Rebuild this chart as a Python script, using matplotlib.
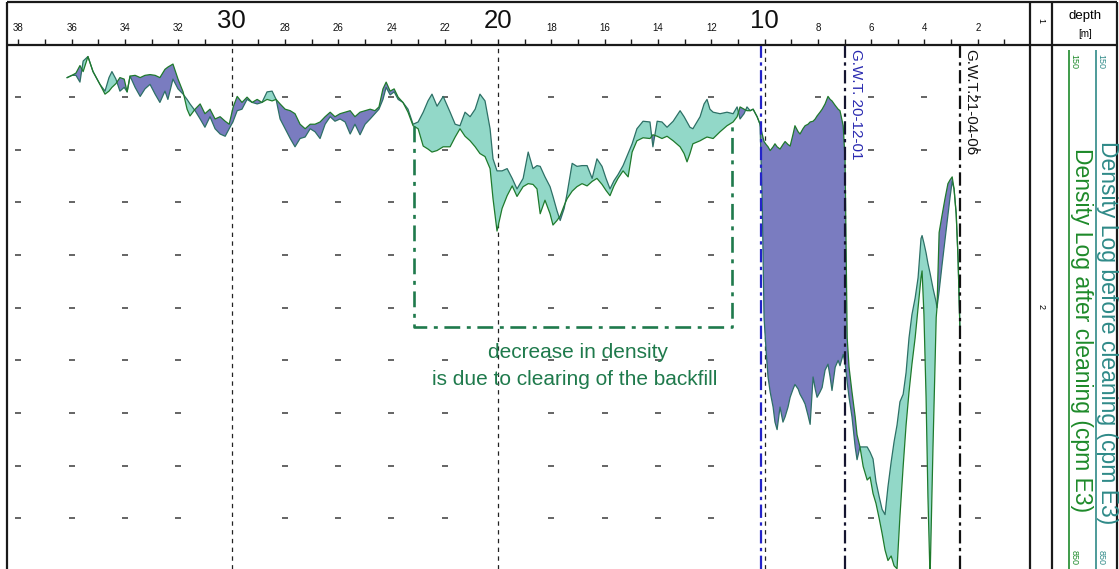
import matplotlib
matplotlib.use("Agg")
import matplotlib.pyplot as plt
from matplotlib.lines import Line2D
import numpy as np

plt.rcParams['font.family'] = ['Liberation Sans', 'DejaVu Sans']

# ---------------- data (depth in m, density log in cpm E3) ----------------
depth = [36.17, 35.99, 35.84, 35.69, 35.57, 35.39, 35.20, 34.94, 34.75, 34.60,
         34.49, 34.34, 34.19, 34.03, 33.92, 33.81, 33.62, 33.43, 33.25, 33.06,
         32.87, 32.69, 32.50, 32.39, 32.20, 32.01, 31.82, 31.67, 31.56, 31.37,
         31.18, 31.00, 30.81, 30.62, 30.43, 30.24, 30.09, 29.94, 29.79, 29.61,
         29.42, 29.23, 29.04, 28.86, 28.67, 28.48, 28.33, 28.18, 27.99, 27.80,
         27.62, 27.43, 27.24, 27.05,
         26.87, 26.68, 26.49, 26.30, 26.12, 25.93, 25.74, 25.55, 25.37, 25.18,
         24.99, 24.80, 24.62, 24.47, 24.32, 24.20, 24.05, 23.90, 23.75, 23.57,
         23.38, 23.19,
         23.00, 22.81, 22.63, 22.48, 22.29, 22.06, 21.80, 21.61, 21.43, 21.24,
         21.05, 20.86, 20.68, 20.49, 20.30, 20.19, 20.04, 19.85, 19.66, 19.47,
         19.29, 19.06, 18.87, 18.69, 18.54, 18.42, 18.24, 18.05, 17.94, 17.79,
         17.67, 17.52, 17.41, 17.22, 17.04, 16.85, 16.66, 16.47, 16.29,
         16.10, 15.95, 15.80, 15.65, 15.50, 15.31, 15.12, 14.97, 14.79, 14.56,
         14.30, 14.19, 14.03, 13.85, 13.66, 13.43, 13.17, 13.02, 12.91, 12.80,
         12.69, 12.42, 12.27, 12.16, 12.05, 11.93, 11.67, 11.41, 11.18, 11.03,
         10.92, 10.77, 10.66, 10.54, 10.43, 10.28, 10.17,
         10.09, 10.02, 9.94, 9.87, 9.79, 9.68, 9.61, 9.53, 9.42, 9.31,
         9.23, 9.12, 9.04, 8.93, 8.86, 8.74, 8.67, 8.56, 8.48, 8.37,
         8.29, 8.18, 8.10, 8.03, 7.92, 7.84, 7.73, 7.62, 7.54, 7.47,
         7.35, 7.24, 7.17, 7.05, 6.98, 6.94, 6.90, 6.83, 6.72, 6.60,
         6.53, 6.42,
         6.30, 6.15, 6.04, 5.93, 5.82, 5.70, 5.59, 5.48, 5.37, 5.25,
         5.14, 5.03, 4.92, 4.80, 4.69, 4.58, 4.47, 4.35, 4.24, 4.13,
         4.09, 4.02, 3.94, 3.87, 3.79, 3.68, 3.56, 3.53, 3.45, 3.34,
         3.23, 3.12, 3.04, 2.96, 2.89, 2.81, 2.74, 2.66]

before = [194, 191, 191, 200, 172, 166, 186, 203, 212, 194,
          186, 196, 212, 207, 213, 192, 207, 219, 209, 203,
          216, 227, 212, 223, 196, 209, 216, 223, 229, 238,
          249, 260, 246, 262, 269, 272, 262, 252, 238, 236,
          223, 227, 229, 227, 213, 212, 223, 249, 262, 275,
          286, 275, 273, 262,
          266, 275, 256, 246, 252, 249, 253, 269, 256, 270,
          256, 249, 242, 236, 223, 207, 217, 213, 223, 227,
          236, 256,
          253, 240, 225, 216, 232, 219, 240, 256, 258, 240,
          246, 236, 216, 225, 262, 302, 318, 318, 315, 328,
          342, 328, 293, 315, 311, 312, 326, 339, 352, 371,
          384, 368, 348, 308, 312, 311, 311, 328, 302,
          312, 328, 342, 331, 323, 311, 295, 282, 262, 252,
          253, 286, 252, 253, 260, 252, 238, 246, 253, 260,
          262, 246, 229, 223, 236, 240, 242, 240, 242, 233,
          249, 242, 233, 238, 236, 246, 256,
          355, 513, 559, 592, 612, 632, 652, 662, 632, 652,
          645, 632, 619, 608, 602, 608, 615, 622, 628, 643,
          655, 592, 608, 619, 612, 606, 583, 575, 592, 610,
          579, 570, 577, 562, 573, 586, 599, 619, 645, 685,
          702, 685,
          685, 685, 692, 701, 731, 751, 768, 775, 738, 705,
          678, 656, 625, 615, 586, 540, 509, 487, 460, 408,
          404, 414, 427, 441, 454, 474, 493, 500, 478, 443,
          410, 376, 353, 332, 342, 375, 434, 540]

after = [194, 191, 188, 178, 186, 166, 186, 203, 216, 212,
         207, 202, 194, 196, 213, 192, 191, 194, 191, 190,
         191, 194, 183, 180, 176, 196, 213, 236, 245, 236,
         229, 242, 236, 249, 246, 252, 256, 233, 219, 227,
         220, 227, 223, 227, 223, 225, 223, 229, 236, 238,
         242, 256, 262, 256,
         256, 253, 246, 240, 246, 242, 240, 238, 246, 240,
         238, 236, 238, 233, 209, 200, 212, 209, 220, 227,
         240, 258,
         262, 285, 289, 293, 291, 286, 286, 273, 262, 272,
         278, 286, 295, 299, 315, 355, 398, 368, 351, 338,
         352, 339, 335, 336, 342, 375, 357, 375, 390, 384,
         378, 364, 355, 345, 339, 335, 338, 332, 328,
         336, 344, 351, 338, 328, 318, 326, 293, 278, 274,
         275, 270, 272, 275, 272, 278, 286, 295, 306, 295,
         282, 278, 275, 273, 274, 275, 266, 258, 253, 246,
         233, 236, 238, 238, 236, 246, 256,
         269, 279, 283, 286, 291, 286, 282, 286, 289, 283,
         279, 283, 285, 269, 258, 266, 269, 262, 258, 256,
         253, 252, 249, 245, 240, 236, 229, 219, 223, 225,
         231, 236, 238, 258, 302, 421, 540, 579, 612, 645,
         669, 685,
         711, 729, 725, 747, 760, 780, 800, 822, 836, 830,
         843, 847, 777, 711, 656, 612, 575, 540, 500, 460,
         451, 509, 619, 751, 860, 685, 513, 500, 400, 377,
         355, 335, 330, 326, 342, 375, 434, 540]

tick_values = [38, 36, 34, 32, 30, 28, 26, 24, 22, 20, 18, 16, 14, 12, 10, 8, 6, 4, 2]
tick_labels = ['38', '36', '34', '32', '30', '28', '26', '24', '22', '20',
               '18', '16', '14', '12', '10', '8', '6', '4', '2']
minor_ticks = [37, 35, 33, 31, 29, 27, 25, 23, 21, 19, 17, 15, 13, 11, 9, 7, 5, 3, 1]
big_ticks = [30, 20, 10]
grid_cols = [38, 36, 34, 32, 28, 26, 24, 22, 18, 16, 14, 12, 8, 6, 4, 2]
grid_rows = [220, 290, 360, 430, 500, 570, 640, 710, 780]
density_range = (150, 850)

gwt_labels = ['G.W.T. 20-12-01', 'G.W.T.21-04-06']
gwt_depths = [7.0, 2.66]
blue_marker_depth = 10.12
box_depths = (23.17, 11.22)
box_density = (258, 526)
note_lines = ['decrease in density', 'is due to clearing of the backfill']

# ---------------- colours ----------------
CYAN = '#92D8C8'
PURPLE = '#7A7CC0'
C_BEFORE = '#2D7066'
C_AFTER = '#1F7A2C'
C_NOTE = '#1F7A4C'
C_LEG_BEFORE = '#2F8A88'
C_LEG_AFTER = '#1E8A2A'
BLUE = '#2424C8'
FRAME = '#1a1a1a'

W, H = 1119, 569
fig = plt.figure(figsize=(W / 100, H / 100), dpi=100)


def fx(x):
    return x / W


def fy(y):
    return 1 - y / H


TOP = 44.5
ax = fig.add_axes([fx(8), 0, fx(1030) - fx(8), fy(TOP)])
ax.set_xlim(38.39, 0.04)
ax.set_ylim(847.3, 150)
for s in ax.spines.values():
    s.set_visible(False)
ax.set_yticks([])

d = np.array(depth)
b = np.array(before, dtype=float)
a = np.array(after, dtype=float)

# grid tick marks
gx, gy = np.meshgrid(grid_cols, grid_rows)
ax.plot(gx.ravel(), gy.ravel(), ls='none', marker='_', ms=4.5, mew=1.1,
        color='#3a3a3a', zorder=1)

# reference dashed lines
for v in big_ticks:
    ax.axvline(v, color='#222222', lw=0.9, ls=(0, (3.5, 3.5)), zorder=1)

# fills
ax.fill_between(d, b, a, where=a >= b, interpolate=True, color=CYAN, lw=0, zorder=2)
ax.fill_between(d, b, a, where=a < b, interpolate=True, color=PURPLE, lw=0, zorder=2)
ax.plot(d, b, color=C_BEFORE, lw=0.9, zorder=3)
ax.plot(d, a, color=C_AFTER, lw=0.9, zorder=3)

# blue marker line near 10 m
ax.axvline(blue_marker_depth, color=BLUE, lw=1.6, ls=(0, (6, 2, 1.5, 2)), zorder=4)
# G.W.T. lines
ax.axvline(gwt_depths[0], color='#151530', lw=1.6, ls=(0, (6, 2, 1.5, 2)), zorder=4)
ax.axvline(gwt_depths[1], color='#111111', lw=1.6, ls=(0, (6, 2, 1.5, 2)), zorder=4)
ax.text(gwt_depths[0] - 0.43, 156, gwt_labels[0], rotation=-90, ha='center', va='top',
        fontsize=11, color='#2a2ab0', zorder=5)
ax.text(gwt_depths[1] - 0.37, 156, gwt_labels[1], rotation=-90, ha='center', va='top',
        fontsize=11, color='#111111', zorder=5)

# annotation box (open top)
bl, br = box_depths
bt, bb = box_density
ax.plot([bl, bl, br, br], [bt, bb, bb, bt], color=C_NOTE, lw=1.9,
        ls=(0, (6, 2.5, 1.5, 2.5)), zorder=4)
ax.text(17.0, 559, note_lines[0], ha='center', va='center', fontsize=15, color=C_NOTE)
ax.text(17.11, 595, note_lines[1], ha='center', va='center', fontsize=15, color=C_NOTE)

# top depth scale
ax.xaxis.tick_top()
ax.set_xticks(tick_values)
ax.set_xticklabels(tick_labels)
for lab, val in zip(ax.get_xticklabels(), tick_values):
    lab.set_fontsize(18.5 if val in big_ticks else 7)
    lab.set_color('#111111')
ax.set_xticks(minor_ticks, minor=True)
ax.tick_params(axis='x', which='both', direction='out', length=4, width=1.0,
               pad=4, top=True, bottom=False, labelbottom=False, labeltop=True,
               color=FRAME)


# ---------------- frame and right-hand columns ----------------
def fline(x0, y0, x1, y1, color=FRAME, lw=1.6):
    fig.add_artist(Line2D([fx(x0), fx(x1)], [fy(y0), fy(y1)], color=color, lw=lw,
                          transform=fig.transFigure, solid_capstyle='butt'))


fline(7, 2, 1117, 2)
fline(7, 2, 7, 569)
fline(1117, 2, 1117, 569)
fline(7, TOP, 1117, TOP)
fline(1030, 2, 1030, 569)
fline(1052, 2, 1052, 569)

fig.text(fx(1041), fy(20), '1', rotation=-90, ha='center', va='center', fontsize=6.5)
fig.text(fx(1041), fy(307), '2', rotation=-90, ha='center', va='center', fontsize=6.5)
fig.text(fx(1085), fy(16), 'depth', ha='center', va='center', fontsize=9.5)
fig.text(fx(1085), fy(34), '[m]', ha='center', va='center', fontsize=7)

# legend scale lines
fline(1069, 50, 1069, 569, color=C_LEG_AFTER, lw=1.2)
fline(1096, 50, 1096, 569, color=C_LEG_BEFORE, lw=1.2)
for xx, col in [(1074, C_LEG_AFTER), (1101, C_LEG_BEFORE)]:
    fig.text(fx(xx), fy(62), str(density_range[0]), rotation=-90, ha='center',
             va='center', fontsize=6.5, color=col)
    fig.text(fx(xx), fy(557), str(density_range[1]), rotation=-90, ha='center',
             va='center', fontsize=6.5, color=col)
fig.text(fx(1081), fy(330), 'Density Log after cleaning (cpm E3)', rotation=-90,
         ha='center', va='center', fontsize=16.5, color=C_LEG_AFTER)
fig.text(fx(1107), fy(333), 'Density Log before cleaning (cpm E3)', rotation=-90,
         ha='center', va='center', fontsize=16.5, color=C_LEG_BEFORE)

fig.savefig('out.png', dpi=100)
